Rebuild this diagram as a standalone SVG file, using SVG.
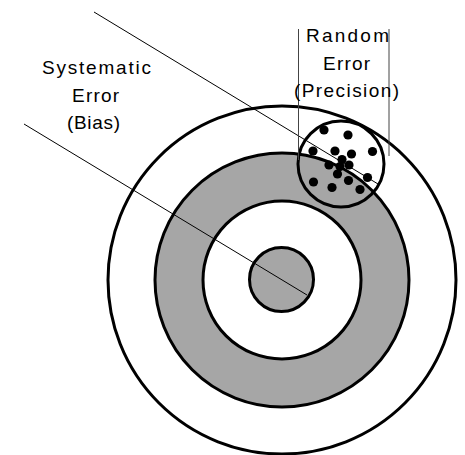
<svg xmlns="http://www.w3.org/2000/svg" width="465" height="455" viewBox="0 0 465 455">
<style>
.ring{stroke:#000;stroke-width:3}
.gray{fill:#a6a6a6}
.white{fill:#fff}
.dot{fill:#000}
.lbl{font-family:"Liberation Sans",Arial,sans-serif;font-size:19px;fill:#000}
.ln{stroke:#000;stroke-width:1;fill:none}
.vl{stroke:#444;stroke-width:1;fill:none}
</style>
<rect width="465" height="455" fill="#fff"/>
<g id="target">
<circle class="ring white" cx="282" cy="280" r="174"/>
<circle class="ring gray" cx="282" cy="280" r="127"/>
<circle class="ring white" cx="282" cy="280" r="79"/>
<circle class="ring gray" cx="281.5" cy="279.5" r="32"/>
</g>
<g id="random-cluster">
<circle class="ring" cx="341" cy="164" r="43" fill="none"/>
<circle class="dot" cx="324" cy="130" r="4.6"/>
<circle class="dot" cx="348" cy="135" r="4.6"/>
<circle class="dot" cx="313" cy="151" r="4.6"/>
<circle class="dot" cx="335" cy="151" r="4.6"/>
<circle class="dot" cx="351.5" cy="154" r="4.6"/>
<circle class="dot" cx="372.5" cy="151.5" r="4.6"/>
<circle class="dot" cx="342" cy="159.5" r="4.6"/>
<circle class="dot" cx="329" cy="165" r="4.6"/>
<circle class="dot" cx="340" cy="166.5" r="4.6"/>
<circle class="dot" cx="349" cy="165" r="4.6"/>
<circle class="dot" cx="337.5" cy="174" r="4.6"/>
<circle class="dot" cx="367.5" cy="177.5" r="4.6"/>
<circle class="dot" cx="313.5" cy="182" r="4.6"/>
<circle class="dot" cx="348.5" cy="180.5" r="4.6"/>
<circle class="dot" cx="332" cy="187.5" r="4.6"/>
<circle class="dot" cx="360" cy="189.5" r="4.6"/>
</g>
<g id="connectors">
<line class="ln" x1="94" y1="12" x2="378" y2="184"/>
<line class="ln" x1="24" y1="124" x2="307" y2="295"/>
<line class="vl" x1="298.5" y1="29" x2="298.5" y2="160"/>
<line class="vl" x1="389" y1="29" x2="389" y2="156"/>
</g>
<g id="label-systematic">
<text class="lbl" x="42" y="74" textLength="109" lengthAdjust="spacing">Systematic</text>
<text class="lbl" x="72" y="101.5" textLength="47" lengthAdjust="spacing">Error</text>
<text class="lbl" x="67" y="128.5" textLength="53" lengthAdjust="spacing">(Bias)</text>
</g>
<g id="label-random">
<text class="lbl" x="306" y="41.7" textLength="83" lengthAdjust="spacing">Random</text>
<text class="lbl" x="323" y="70" textLength="47" lengthAdjust="spacing">Error</text>
<text class="lbl" x="294" y="97.3" textLength="105" lengthAdjust="spacing">(Precision)</text>
</g>
</svg>
